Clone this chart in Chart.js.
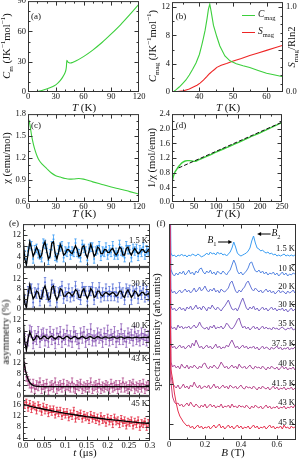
<!DOCTYPE html>
<html>
<head>
<meta charset="utf-8">
<script src="https://cdn.jsdelivr.net/npm/chart.js@4.4.0/dist/chart.umd.min.js"></script>
<style>
  html, body { margin: 0; padding: 0; background: #fff; }
  body { position: relative; width: 299px; height: 461px; overflow: hidden;
         font-family: "Liberation Serif", "DejaVu Serif", serif; color: #111; }
  .box { position: absolute; z-index: 1; }
  .t { position: absolute; z-index: 5; white-space: nowrap; line-height: 1; transform: translate(-50%, -50%); }
  .r { transform: translate(-50%, -50%) rotate(-90deg); }
  .ra { transform: translate(-100%, -50%); }
  sub, sup { font-size: 68%; line-height: 0; }
</style>
</head>
<body>
<script>
// (a) total heat capacity
const aTemp = [0, 5, 10, 15, 20, 25, 30, 35, 38, 40, 41, 41.5, 42, 42.5, 43, 44, 45, 46, 48, 50, 55, 60, 70, 80, 90, 100, 110, 120];
const aCm   = [0, 0.1, 0.5, 1.4, 3, 4.8, 7, 11.5, 15.5, 19, 22, 25, 31.5, 30.5, 29.8, 29.2, 28.8, 28.7, 29.2, 30, 32.3, 35, 41.5, 49, 57.5, 66.5, 76.5, 87];

// (b) magnetic heat capacity and entropy
const bTempC = [32.2, 33, 34, 35, 36, 37, 38, 39, 40, 40.7, 41.2, 41.7, 42.3, 42.7, 43.1, 43.5, 44.2, 45.2, 46.1, 47.6, 49.1, 51, 53, 55, 57.5, 60, 62.5, 64.9];
const bCmag  = [0, 0.3, 0.7, 1.2, 1.7, 2.4, 3.2, 4.1, 5.3, 6.6, 7.6, 8.7, 10.4, 11.7, 12.4, 11.4, 9.4, 7.8, 6.5, 5.1, 4.4, 4.0, 3.7, 3.45, 3.05, 2.65, 2.4, 2.15];
const bTempS = [31.9, 33, 35.3, 37, 38.2, 39.3, 40.2, 41.2, 42.2, 43, 43.7, 44.5, 45.2, 46.5, 48.1, 50.1, 52.5, 55, 57.5, 60, 62.5, 64.9];
const bSmag  = [0, 0.003, 0.015, 0.035, 0.058, 0.08, 0.105, 0.14, 0.18, 0.215, 0.24, 0.265, 0.29, 0.315, 0.335, 0.364, 0.395, 0.43, 0.46, 0.49, 0.52, 0.55];

// (c) susceptibility
const cTemp = [1, 2, 3, 4, 6, 8, 10, 12, 15, 20, 25, 30, 35, 40, 45, 50, 55, 60, 70, 80, 90, 100, 110, 120];
const cChi  = [1.72, 1.66, 1.58, 1.5, 1.38, 1.29, 1.22, 1.17, 1.12, 1.06, 1.0, 0.96, 0.94, 0.922, 0.912, 0.915, 0.92, 0.912, 0.875, 0.84, 0.805, 0.775, 0.742, 0.71];

// (d) inverse susceptibility + Curie-Weiss line
const dTemp = [1, 2, 4, 6, 10, 15, 20, 25, 30, 35, 40, 45, 50, 55, 60, 80, 100, 125, 150, 175, 200, 225, 250];
const dInv  = [0.58, 0.65, 0.73, 0.8, 0.88, 0.97, 1.04, 1.09, 1.12, 1.13, 1.13, 1.12, 1.11, 1.12, 1.15, 1.25, 1.36, 1.49, 1.62, 1.76, 1.89, 2.03, 2.17];
const dFitT = [15, 250];
const dFitV = [0.93, 2.18];

// (e) muSR asymmetry
const muT = [0, 0.004, 0.008, 0.012, 0.016, 0.02, 0.024, 0.028, 0.032, 0.036,
  0.04, 0.044, 0.048, 0.052, 0.056, 0.06, 0.064, 0.068, 0.072, 0.076,
  0.08, 0.084, 0.088, 0.092, 0.096, 0.1, 0.104, 0.108, 0.112, 0.116,
  0.12, 0.124, 0.128, 0.132, 0.136, 0.14, 0.144, 0.148, 0.152, 0.156,
  0.16, 0.164, 0.168, 0.172, 0.176, 0.18, 0.184, 0.188, 0.192, 0.196,
  0.2, 0.204, 0.208, 0.212, 0.216, 0.22, 0.224, 0.228, 0.232, 0.236,
  0.24, 0.244, 0.248, 0.252, 0.256, 0.26, 0.264, 0.268, 0.272, 0.276,
  0.28, 0.284, 0.288, 0.292, 0.296, 0.3];
const mu15 = [14, 4.5, 1.5, 6, 8.5, 8, 3, 6.5, 7, 5, 4.5, 3.5, 9, 8.5, 7, 2.5, 5, 8, 10.5, 4,
  3.5, 6.5, 7.5, 8, 3.5, 6, 5.5, 7.5, 4.5, 6, 5.5, 9, 5.5, 5, 3.5, 8.5, 7, 6, 2.5, 7,
  7.5, 7.5, 3, 6, 6.5, 8, 4, 6, 5.5, 7.5, 4.5, 6.5, 5.5, 8, 4.5, 5.5, 4.5, 8.5, 6, 5.5,
  3.5, 8, 6.5, 6.5, 3.5, 7, 6, 7, 4, 6.5, 5.5, 7.5, 4.5, 6.5, 5.5, 7];
const fit15 = [11.5, 3, 0.8, 5, 9.5, 7, 4, 5.5, 7.5, 6, 3.5, 4.5, 8, 9.5, 6, 3, 4, 9, 9.5, 5,
  3, 5.5, 8.5, 7, 4.5, 5, 6.5, 6.5, 5.5, 5, 6.5, 8, 6.5, 4, 4.5, 7.5, 8, 5, 3.5, 6,
  8.5, 6.5, 4, 5, 7.5, 7, 5, 5, 6.5, 6.5, 5.5, 5.5, 6.5, 7, 5.5, 4.5, 5.5, 7.5, 7, 4.5,
  4.5, 7, 7.5, 5.5, 4.5, 6, 7, 6, 5, 5.5, 6.5, 6.5, 5.5, 5.5, 6.5, 6.5];
const mu30 = [13, 3.5, 1, 7, 8, 8, 2.5, 6.5, 6, 8, 3, 5.5, 6.5, 10.5, 5.5, 4.5, 3, 9.5, 8, 7,
  2.5, 6.5, 7, 9, 4, 6.5, 5, 8, 4.5, 6.5, 5, 9, 6, 5.5, 3.5, 8.5, 7, 7, 3, 7,
  7, 8.5, 3.5, 6.5, 6, 8.5, 4.5, 6.5, 5, 8, 5, 7, 5, 8, 5, 6.5, 4.5, 8.5, 6, 6.5,
  3.5, 8, 6.5, 7.5, 3.5, 7, 6, 8, 4, 7, 5.5, 8, 4.5, 7, 5, 7.5];
const fit30 = [10.5, 2.5, 0.5, 5.5, 9.5, 6.5, 4, 5, 7, 6.5, 4, 4, 7.5, 9, 6.5, 3.5, 4, 8.5, 9, 5.5,
  3.5, 5, 8, 7.5, 5, 5, 6, 6.5, 6, 5, 6, 7.5, 7, 4.5, 4.5, 7, 8, 5.5, 4, 5.5,
  8, 7, 4.5, 5, 7, 7, 5.5, 5, 6, 6.5, 6, 5.5, 6, 6.5, 6, 5, 5.5, 7, 7, 5,
  4.5, 6.5, 7.5, 6, 4.5, 5.5, 7, 6.5, 5, 5.5, 6.5, 6.5, 5.5, 5.5, 6, 6.5];
const mu40 = [14, 5, 2, 4.5, 8, 7.5, 3.5, 6, 5, 7.5, 4, 6.5, 7, 4.5, 6.5, 4, 7.5, 5, 6.5, 3.5,
  7, 5, 7.5, 4, 6.5, 5, 8, 4.5, 6, 4, 7.5, 6, 5, 3.5, 7, 5.5, 7.5, 4, 6.5, 5,
  8.5, 4.5, 6, 4.5, 7, 5.5, 6.5, 4, 7, 5, 8, 4.5, 6.5, 5, 7.5, 4, 6, 5, 8.5, 5,
  6, 4, 7, 5.5, 6.5, 4.5, 7.5, 5, 6, 4.5, 7, 5, 6.5, 4.5, 6, 5.5];
const fit40 = [13, 4, 1, 5, 7.5, 6, 4.5, 5, 6.2, 6, 5, 5.2, 6, 6, 5.3, 5.1, 5.8, 6.1, 5.5, 5,
  5.5, 6, 5.8, 5.2, 5.1, 5.7, 6, 5.6, 5.1, 5.3, 5.9, 5.9, 5.3, 5.1, 5.6, 6, 5.6, 5.2, 5.3, 5.8,
  5.9, 5.4, 5.2, 5.5, 5.9, 5.7, 5.3, 5.3, 5.7, 5.8, 5.4, 5.3, 5.5, 5.8, 5.7, 5.3, 5.3, 5.7, 5.8, 5.5,
  5.3, 5.5, 5.7, 5.6, 5.4, 5.4, 5.6, 5.7, 5.5, 5.4, 5.5, 5.6, 5.6, 5.5, 5.5, 5.6];
const mu43 = [14, 10.5, 7, 5.5, 4.5, 3, 4.5, 2.5, 4, 3.5, 5, 2.5, 4, 3, 4.5, 2, 3.5, 4, 3, 5,
  2.5, 3.5, 4, 3, 4.5, 2, 4, 3.5, 3, 5, 3, 2.5, 4, 3.5, 4.5, 2.5, 3.5, 3, 4, 3,
  5, 2.5, 3.5, 4, 3, 4.5, 2.5, 3.5, 3, 4, 3.5, 2.5, 4.5, 3, 3.5, 4, 2.5, 4, 3, 5,
  3, 3.5, 2.5, 4, 3.5, 4.5, 2.5, 3.5, 3, 4, 3, 4.5, 2.5, 3.5, 4, 3];
const fit43T = [0, 0.002, 0.004, 0.006, 0.008, 0.01, 0.013, 0.016, 0.02, 0.025, 0.03, 0.04, 0.06, 0.1, 0.2, 0.3];
const fit43  = [15.5, 13, 11, 9.3, 8, 6.9, 5.7, 4.9, 4.2, 3.8, 3.6, 3.45, 3.4, 3.4, 3.4, 3.4];
const mu45 = [17.5, 16, 17, 15, 16.5, 14.5, 16, 15.5, 14, 16, 15, 13.5, 15.5, 14, 15, 13, 14.5, 13.5, 14.5, 12.5,
  14, 13, 14, 12, 13.5, 12.5, 13.5, 11.5, 13, 12, 14, 11, 12.5, 12, 13, 11, 12.5, 11.5, 12, 10.5,
  12.5, 11, 12, 10.5, 11.5, 10, 12, 10.5, 11, 9.5, 11.5, 10, 11, 9, 11.5, 10, 10.5, 9, 11, 9.5,
  10.5, 8.5, 10, 9.5, 10.5, 8.5, 10, 9, 10.5, 8, 9.5, 9, 10, 8, 9.5, 8.5];
const fit45T = [0, 0.025, 0.05, 0.075, 0.1, 0.125, 0.15, 0.175, 0.2, 0.225, 0.25, 0.275, 0.3];
const fit45  = [16.3, 15.3, 14.5, 13.7, 13.0, 12.4, 11.8, 11.3, 10.8, 10.4, 10.0, 9.6, 9.3];
const muErr  = [1.6, 1.8, 2.0, 1.6, 1.2];
const muTemps = ['1.5 K', '30 K', '40 K', '43 K', '45 K'];
const muColors = ['#3a9bf4', '#5a72d8', '#8d5cb8', '#b04a8c', '#e3283f'];

// (f) FFT spectra, px-like arbitrary units above each baseline
const fieldB = [0, 0.01, 0.02, 0.03, 0.04, 0.05, 0.06, 0.07, 0.08, 0.09, 0.1,
  0.11, 0.12, 0.13, 0.14, 0.15, 0.16, 0.17, 0.18, 0.19, 0.2,
  0.21, 0.22, 0.23, 0.24, 0.25, 0.26, 0.27, 0.28, 0.29, 0.3,
  0.31, 0.32, 0.33, 0.34, 0.35, 0.36, 0.37, 0.38, 0.39, 0.4,
  0.41, 0.42, 0.43, 0.44, 0.45, 0.46, 0.47, 0.48, 0.49, 0.5,
  0.51, 0.52, 0.53, 0.54, 0.55, 0.56, 0.57, 0.58, 0.59, 0.6,
  0.61, 0.62, 0.63, 0.64, 0.65, 0.66, 0.67, 0.68, 0.69, 0.7];
const spec15  = [300, 4,1,2,0,2,1,3,1,2,0, 2,1,3,2,1,3,2,0,1,2, 4,2,5,3,4,2,5,3,4,2, 3,1,3,5,9,15,10,4,2,1, 2,3,4,6,9,16,21,14,9,8, 6,7,5,4,5,3,4,2,3,1, 2,1,2,3,1,2,1,2,1,2];
const spec10  = [300, 8,3,1,4,2,5,3,6,2,4, 7,3,5,2,6,4,8,9,5,3, 6,4,7,3,5,2,6,4,3,6, 4,2,5,7,12,17,13,6,3,5, 2,4,6,9,14,15,10,6,5,7, 4,6,3,5,2,4,3,5,2,4, 1,3,5,2,4,1,3,2,4,3];
const spec20  = [300, 6,2,4,1,3,5,2,4,6,3, 5,2,4,7,3,5,8,4,6,9, 5,3,6,4,7,3,5,2,6,4, 3,5,7,12,14,9,4,2,5,3, 6,8,12,14,10,6,4,7,5,3, 5,2,4,6,3,5,2,4,1,3, 5,2,4,3,1,4,2,3,5,2];
const spec30  = [300, 7,3,5,2,4,6,3,5,2,6, 4,7,3,5,8,4,6,3,7,5, 2,6,4,8,5,3,6,4,2,5, 7,10,13,8,4,3,5,2,6,11, 15,10,5,3,6,4,7,3,5,2, 4,6,3,5,2,4,6,3,5,2, 4,3,5,2,4,1,3,5,2,4];
const spec35  = [300, 6,3,5,2,7,4,6,3,5,4, 6,3,5,7,4,6,10,6,4,3, 5,2,6,4,7,3,5,4,6,3, 5,9,7,4,3,5,8,12,14,8, 4,6,3,5,2,4,6,3,5,2, 4,6,3,5,3,4,2,5,3,4, 2,4,5,3,2,4,3,5,2,3];
const spec375 = [300, 8,4,6,3,5,7,4,6,3,5, 7,4,9,6,12,8,4,6,3,5, 7,4,6,3,5,8,4,6,3,5, 4,7,5,9,12,8,4,6,3,5, 7,4,6,3,5,4,6,3,5,2, 4,6,3,5,4,2,5,3,4,6, 3,5,2,4,3,5,2,4,3,5];
const spec40  = [300, 10,5,7,4,6,3,8,5,4,7, 3,6,4,7,5,3,6,4,8,9, 5,3,6,4,7,5,3,6,10,7, 4,6,3,5,7,4,6,3,8,5, 4,6,3,5,7,4,3,6,4,5, 3,6,4,2,5,3,6,4,3,5, 2,4,6,3,5,2,4,3,5,2];
const spec415 = [300, 16,9,6,4,7,3,5,8,4,6, 3,7,5,10,6,4,7,3,5,6, 4,7,3,5,8,4,6,3,5,7, 4,6,3,7,5,4,6,3,5,7, 4,3,6,4,5,3,6,4,2,5, 3,6,4,3,5,2,4,6,3,5, 2,4,3,5,2,4,3,5,2,4];
const spec43  = [300, 30,14,9,7,8,5,7,4,6,8, 5,9,6,4,7,5,3,6,4,7, 3,5,7,4,6,3,5,4,7,3, 5,4,6,3,7,4,5,3,6,4, 5,3,6,4,2,5,3,6,4,3, 5,2,4,6,3,5,2,4,3,5, 2,4,3,5,2,4,3,5,3,6];
const spec45  = [300, 62,52,38,28,20,15,12,9,7,5, 6,3,5,2,4,6,3,5,2,4, 3,5,2,4,6,3,5,7,3,5, 2,4,6,3,5,2,4,6,3,5, 2,4,3,5,2,4,6,3,5,2, 4,3,5,2,4,6,3,5,2,4, 3,5,2,6,3,4,2,5,3,4];
const specTemps  = ['1.5 K', '10 K', '20 K', '30 K', '35 K', '37.5 K', '40 K', '41.5 K', '43 K', '45 K'];
const specOffset = [183, 163, 145, 127, 108, 88, 68, 48, 29, 9];
const specColors = ['#3a9df2', '#5486e2', '#6676d6', '#7966c6', '#8b5cb8', '#9a55ab', '#aa4f9c', '#ba488c', '#cc3f76', '#e5304e'];

const GREEN = '#3ccf3c', RED = '#ee2424';
const FONT = '"Liberation Serif", "DejaVu Serif", serif';

// inward ticks, frame box, error bars, arrows
const frame = {
  id: 'frame',
  beforeDatasetsDraw(chart) {
    const { ctx, chartArea: a } = chart;
    ctx.save();
    ctx.beginPath(); ctx.rect(a.left, a.top, a.width, a.height); ctx.clip();
    chart.data.datasets.forEach((ds, i) => {
      if (ds.errs === undefined) return;
      const meta = chart.getDatasetMeta(i), ys = chart.scales[meta.yAxisID];
      ctx.strokeStyle = ds.borderColor; ctx.lineWidth = 0.8;
      meta.data.forEach((pt, j) => {
        const v = ds.data[j].y;
        const y1 = ys.getPixelForValue(v - ds.errs), y2 = ys.getPixelForValue(v + ds.errs);
        ctx.beginPath();
        ctx.moveTo(pt.x, y1); ctx.lineTo(pt.x, y2);
        ctx.moveTo(pt.x - 1.2, y1); ctx.lineTo(pt.x + 1.2, y1);
        ctx.moveTo(pt.x - 1.2, y2); ctx.lineTo(pt.x + 1.2, y2);
        ctx.stroke();
      });
    });
    ctx.restore();
  },
  afterDatasetsDraw(chart, args, o) {
    const { ctx, chartArea: a, scales } = chart;
    const L = a.left + 0.5, R = a.right - 0.5, T = a.top + 0.5, B = a.bottom - 0.5;
    ctx.save();
    ctx.strokeStyle = '#333'; ctx.lineWidth = 1;
    ctx.strokeRect(L, T, R - L, B - T);
    const marks = (s, n) => {
      const v = s.ticks.map(t => t.value), out = [];
      v.forEach(x => out.push([x, 4]));
      if (n > 1 && v.length > 1) {
        const st = (v[1] - v[0]) / n;
        for (let x = v[0] - st; x >= s.min - 1e-9; x -= st) out.push([x, 2]);
        for (let x = v[0] + st; x <= s.max + 1e-9; x += st) {
          if (Math.abs((x - v[0]) / (st * n) - Math.round((x - v[0]) / (st * n))) > 1e-6) out.push([x, 2]);
        }
      }
      return out;
    };
    ctx.beginPath();
    if (o.xt !== false) marks(scales.x, o.xm || 1).forEach(([v, len]) => {
      const p = Math.round(scales.x.getPixelForValue(v)) + 0.5;
      if (p < L || p > R) return;
      ctx.moveTo(p, B); ctx.lineTo(p, B - len);
      ctx.moveTo(p, T); ctx.lineTo(p, T + len);
    });
    if (o.yt !== false) marks(scales.y, o.ym || 1).forEach(([v, len]) => {
      const p = Math.round(scales.y.getPixelForValue(v)) + 0.5;
      if (p < T || p > B) return;
      ctx.moveTo(L, p); ctx.lineTo(L + len, p);
      if (!scales.y2) { ctx.moveTo(R, p); ctx.lineTo(R - len, p); }
    });
    if (scales.y2) marks(scales.y2, o.y2m || 1).forEach(([v, len]) => {
      const p = Math.round(scales.y2.getPixelForValue(v)) + 0.5;
      if (p < T || p > B) return;
      ctx.moveTo(R, p); ctx.lineTo(R - len, p);
    });
    ctx.stroke();
    (o.arrows || []).forEach(ar => {
      const x1 = scales.x.getPixelForValue(ar[0]), y1 = scales.y.getPixelForValue(ar[1]);
      const x2 = scales.x.getPixelForValue(ar[2]), y2 = scales.y.getPixelForValue(ar[3]);
      const d = Math.sign(x2 - x1);
      ctx.strokeStyle = '#000'; ctx.fillStyle = '#000';
      ctx.beginPath(); ctx.moveTo(x1, y1); ctx.lineTo(x2 - d * 3, y2); ctx.stroke();
      ctx.beginPath(); ctx.moveTo(x2, y2); ctx.lineTo(x2 - d * 4, y2 - 2); ctx.lineTo(x2 - d * 4, y2 + 2); ctx.fill();
    });
    ctx.restore();
  }
};

function axis(min, max, ticks, fmt, show) {
  return {
    type: 'linear', min, max,
    afterBuildTicks: s => { s.ticks = ticks.map(v => ({ value: v })); },
    grid: { display: false, drawTicks: false },
    border: { display: false },
    ticks: { display: show !== false, color: '#111', padding: 2, autoSkip: false, maxRotation: 0,
             font: { family: FONT, size: 8.5 }, callback: fmt }
  };
}

const xy = (xs, ys, off) => xs.map((x, i) => ({ x, y: ys[i] + (off || 0) }));
const line = (xs, ys, color, extra) => Object.assign({
  data: xy(xs, ys), borderColor: color, borderWidth: 1.1, pointRadius: 0, tension: 0, clip: 0
}, extra || {});

function panel(rect, scales, datasets, fo, m) {
  const [l, t, r, b] = rect;
  const M = Object.assign({ l: 24, t: 7, r: 10, b: 13, y2: 0 }, m || {});
  const div = document.createElement('div');
  div.className = 'box';
  Object.assign(div.style, {
    left: (l - M.l) + 'px', top: (t - M.t) + 'px',
    width: (r - l + M.l + M.r + M.y2) + 'px', height: (b - t + M.t + M.b) + 'px'
  });
  const cv = document.createElement('canvas');
  div.appendChild(cv);
  document.body.appendChild(div);
  scales.x.ticks.padding = 0;
  scales.x.afterFit = s => { s.height = M.b; };
  scales.y.afterFit = s => { s.width = M.l; };
  if (scales.y2) scales.y2.afterFit = s => { s.width = M.y2; };
  return new Chart(cv, {
    type: 'line',
    data: { datasets },
    options: {
      animation: false, responsive: true, maintainAspectRatio: false, devicePixelRatio: 1, events: [],
      layout: { autoPadding: false, padding: { top: M.t, right: M.r, left: 0, bottom: 0 } },
      scales,
      plugins: { legend: { display: false }, tooltip: { enabled: false }, frame: fo || {} }
    },
    plugins: [frame]
  });
}

function txt(html, x, y, size, cls) {
  const d = document.createElement('div');
  d.className = 't ' + (cls || '');
  d.innerHTML = html;
  d.style.left = x + 'px'; d.style.top = y + 'px'; d.style.fontSize = size + 'px';
  document.body.appendChild(d);
  return d;
}

const int = v => String(v), one = v => v.toFixed(1);

// (a)
panel([28, 1, 139, 92], {
  x: axis(0, 120, [0, 30, 60, 90, 120], int),
  y: axis(0, 90, [0, 30, 60, 90], int)
}, [line(aTemp, aCm, GREEN, { cubicInterpolationMode: 'monotone' })], { xm: 3, ym: 3 });

// (b)
const yb = axis(0, 12.7, [0, 4, 8, 12], int);
const y2b = axis(0, 12.7 / 12, [0, 0.5, 1], v => v === 0.5 ? '' : one(v));
y2b.position = 'right';
y2b.ticks.padding = 3;
panel([172, 1, 283, 92], {
  x: axis(31.85, 64.9, [40, 50, 60], int),
  y: yb, y2: y2b
}, [
  line(bTempC, bCmag, GREEN),
  line(bTempS, bSmag, RED, { yAxisID: 'y2' })
], { xm: 2, ym: 2, y2m: 5 }, { r: 2, y2: 16 });

// (c)
panel([28, 114, 139, 202], {
  x: axis(0, 120, [0, 30, 60, 90, 120], int),
  y: axis(0.6, 1.8, [0.6, 0.9, 1.2, 1.5, 1.8], one)
}, [line(cTemp, cChi, GREEN, { cubicInterpolationMode: 'monotone' })], { xm: 3, ym: 3 });

// (d)
panel([172, 114, 282, 202], {
  x: axis(0, 250, [0, 50, 100, 150, 200, 250], int),
  y: axis(0, 2.4, [0, 0.4, 0.8, 1.2, 1.6, 2.0, 2.4], one)
}, [
  line(dFitT, dFitV, '#111', { borderDash: [4, 2], borderWidth: 1 }),
  line(dTemp, dInv, GREEN, { cubicInterpolationMode: 'monotone', borderWidth: 1.4 })
], { xm: 2, ym: 2 });

// (e) five stacked asymmetry spectra
const muRows = [
  { top: 224, bot: 267, ymin: 0, ymax: 16.2, ticks: [0, 4, 8, 12], data: mu15, fitT: muT, fit: fit15 },
  { top: 267, bot: 309, ymin: 0, ymax: 16.4, ticks: [0, 4, 8, 12], data: mu30, fitT: muT, fit: fit30 },
  { top: 309, bot: 353, ymin: 0, ymax: 15.8, ticks: [0, 4, 8, 12], data: mu40, fitT: muT, fit: fit40 },
  { top: 353, bot: 396, ymin: 0, ymax: 15.7, ticks: [0, 4, 8, 12], data: mu43, fitT: fit43T, fit: fit43 },
  { top: 396, bot: 441, ymin: 2.9, ymax: 19.3, ticks: [4, 8, 12, 16], data: mu45, fitT: fit45T, fit: fit45 }
];
const muLabels = ['0.0', '0.05', '0.1', '0.15', '0.2', '0.25', '0.3'];
muRows.forEach((row, k) => {
  const last = k === muRows.length - 1;
  panel([23, row.top, 150, row.bot], {
    x: axis(0, 0.3, [0, 0.05, 0.1, 0.15, 0.2, 0.25, 0.3], (v, i) => muLabels[i], last),
    y: axis(row.ymin, row.ymax, row.ticks, int)
  }, [
    line(row.fitT, row.fit, '#000', { borderWidth: 1.3 }),
    { data: xy(muT, row.data), showLine: false, borderColor: muColors[k], backgroundColor: muColors[k],
      pointRadius: 1, pointBorderWidth: 0, errs: muErr[k], clip: 0 }
  ], { xm: 2, ym: 2 }, { l: 23, t: 7, r: 8, b: last ? 12 : 7 });
});

// (f) stacked spectra
const specAll = [spec15, spec10, spec20, spec30, spec35, spec375, spec40, spec415, spec43, spec45];
const specSets = specAll.map((s, i) => ({
  data: xy(fieldB, s, specOffset[i]), borderColor: specColors[i], borderWidth: 1,
  pointRadius: 0, tension: 0, clip: 0
})).reverse();
panel([169, 224, 296, 440], {
  x: axis(0, 0.706, [0, 0.2, 0.4, 0.6], v => v === 0 ? '0' : one(v)),
  y: axis(0, 216, [16, 56, 96, 136, 176], int, false)
}, specSets, { xm: 2, ym: 1, arrows: [[0.273, 198, 0.352, 198], [0.565, 206, 0.49, 206]] }, { l: 20, r: 8, b: 12 });

// text
txt('(a)', 36, 16, 9); txt('(b)', 181, 16, 9);
txt('(c)', 36, 125, 9); txt('(d)', 181, 125, 9);
txt('(e)', 14, 223, 9); txt('(f)', 161, 223, 9);

txt('<i>T</i> (K)', 84, 107, 11); txt('<i>T</i> (K)', 228, 107, 11);
txt('<i>T</i> (K)', 84, 213, 11); txt('<i>T</i> (K)', 228, 213, 11);
txt('<i>t</i> (μs)', 85, 452, 11); txt('<i>B</i> (T)', 233, 452, 11);

txt('<i>C</i><sub>m</sub> (JK<sup>−1</sup>mol<sup>−1</sup>)', 7, 46, 10.5, 'r');
txt('<i>C</i><sub>mag</sub> (JK<sup>−1</sup>mol<sup>−1</sup>)', 153, 46, 10.5, 'r');
txt('<i>S</i><sub>mag</sub>/Rln2', 292, 47, 10.5, 'r');
txt('χ (emu/mol)', 7, 158, 10.5, 'r');
txt('1/χ (mol/emu)', 152, 158, 10.5, 'r');
txt('asymmetry (%)', 6, 332, 10.5, 'r');
txt('spectral intensity (arb.units)', 157, 332, 10.5, 'r');

// legend of (b)
[[GREEN, '<i>C</i><sub>mag</sub>', 15], [RED, '<i>S</i><sub>mag</sub>', 32]].forEach(([c, h, y]) => {
  const s = document.createElement('div');
  Object.assign(s.style, { position: 'absolute', zIndex: 5, left: '242px', top: y + 'px', width: '13px', borderTop: '1.2px solid ' + c });
  document.body.appendChild(s);
  const d = txt(h, 258, y, 9.5); d.style.transform = 'translate(0, -50%)';
});

// temperature tags
const muTagY = [240, 283, 325, 358, 403];
muTemps.forEach((s, i) => txt(s, 148, muTagY[i], 8.5, 'ra'));
specTemps.forEach((s, i) => txt(s, 295, 440 - specOffset[i] - 9, 8.5, 'ra'));
txt('<i>B</i><sub>1</sub>', 212, 241, 9.5);
txt('<i>B</i><sub>2</sub>', 276, 234, 9.5);
</script>
</body>
</html>
